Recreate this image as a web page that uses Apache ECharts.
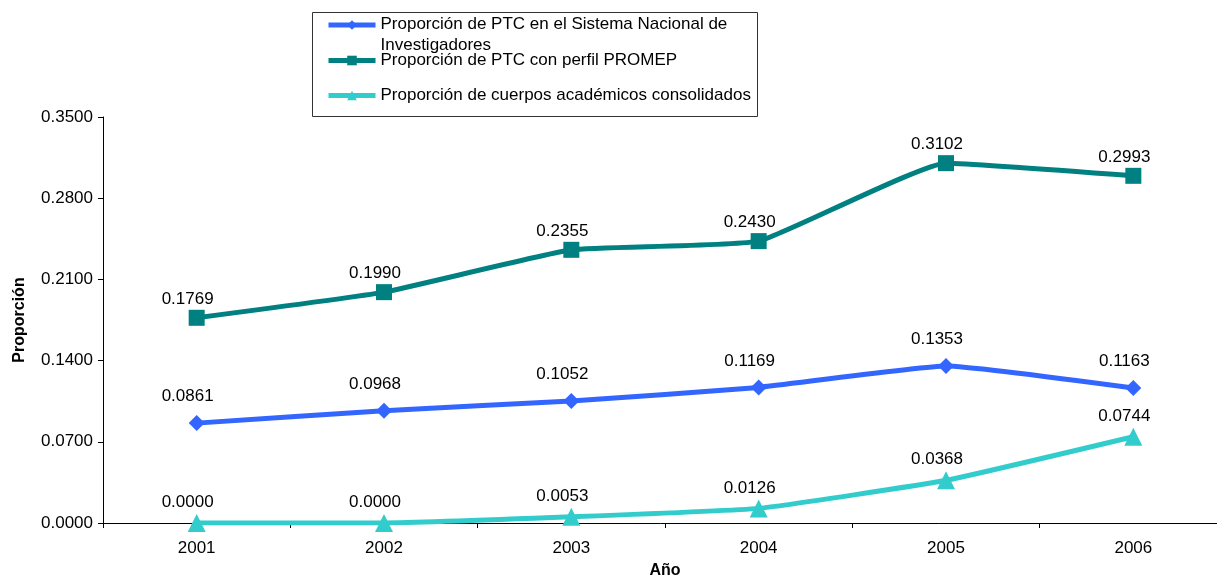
<!DOCTYPE html>
<html>
<head>
<meta charset="utf-8">
<script src="https://cdn.jsdelivr.net/npm/echarts@6/dist/echarts.min.js"></script>
<style>
  html, body { margin: 0; padding: 0; background: #fff; }
  #chart { width: 1217px; height: 577px; }
</style>
</head>
<body>
<div id="chart"></div>
<script>
// Years on the category axis
const years = ['2001', '2002', '2003', '2004', '2005', '2006'];

// Proportion series
const sniValues = [0.0861, 0.0968, 0.1052, 0.1169, 0.1353, 0.1163];
const promepValues = [0.1769, 0.1990, 0.2355, 0.2430, 0.3102, 0.2993];
const cuerposValues = [0.0000, 0.0000, 0.0053, 0.0126, 0.0368, 0.0744];

const seriesNames = [
  'Proporción de PTC en el Sistema Nacional de Investigadores',
  'Proporción de PTC con perfil PROMEP',
  'Proporción de cuerpos académicos consolidados'
];

const FONT = 'Liberation Sans, Arial, sans-serif';
const FS = 17;

function lineSeries(name, data, color, symbol, size, labelDistance) {
  return {
    name: name,
    type: 'line',
    data: data,
    smooth: 0.12,
    symbol: symbol,
    symbolSize: size,
    lineStyle: { color: color, width: 5 },
    itemStyle: { color: color },
    label: {
      show: true,
      position: 'top',
      distance: labelDistance,
      offset: [-9, 0],
      color: '#000',
      fontFamily: FONT,
      fontSize: FS,
      formatter: p => p.value.toFixed(4)
    },
    emphasis: { disabled: true }
  };
}

const legendText = { color: '#000', fontFamily: FONT, fontSize: FS };
const legendCommon = {
  left: 326,
  itemWidth: 47, itemHeight: 12, itemGap: 0, padding: 0,
  lineStyle: { width: 5 }
};

const chart = echarts.init(document.getElementById('chart'));
chart.setOption({
  animation: false,
  backgroundColor: '#fff',
  graphic: [{
    type: 'rect',
    shape: { x: 312.5, y: 12.5, width: 445, height: 104 },
    style: { fill: 'none', stroke: '#333', lineWidth: 1 },
    z: 0
  }],
  legend: [
    Object.assign({}, legendCommon, {
      data: [seriesNames[0]],
      top: 16,
      formatter: () => '{a|Proporción de PTC en el Sistema Nacional de}\n{b|Investigadores}',
      textStyle: Object.assign({}, legendText, {
        rich: {
          a: { fontFamily: FONT, fontSize: FS, color: '#000', lineHeight: 40 },
          b: { fontFamily: FONT, fontSize: FS, color: '#000', lineHeight: 1 }
        }
      })
    }),
    Object.assign({}, legendCommon, {
      data: [seriesNames[1]],
      top: 52,
      textStyle: legendText
    }),
    Object.assign({}, legendCommon, {
      data: [seriesNames[2]],
      top: 87,
      textStyle: legendText
    })
  ],
  grid: { left: 103, right: -10, top: 117, bottom: 54, outerBoundsMode: 'none' },
  xAxis: {
    type: 'category',
    data: years,
    boundaryGap: true,
    name: 'Año',
    nameLocation: 'middle',
    nameGap: 40,
    nameTextStyle: { color: '#000', fontFamily: FONT, fontSize: 16, fontWeight: 'bold' },
    axisLine: { lineStyle: { color: '#000', width: 1 } },
    axisTick: { show: true, length: 5, alignWithLabel: false, lineStyle: { color: '#000' } },
    axisLabel: { color: '#000', fontFamily: FONT, fontSize: FS, margin: 17 },
    splitLine: { show: false }
  },
  yAxis: {
    type: 'value',
    min: 0,
    max: 0.35,
    interval: 0.07,
    name: 'Proporción',
    nameLocation: 'middle',
    nameGap: 75,
    nameRotate: 90,
    nameTextStyle: { color: '#000', fontFamily: FONT, fontSize: 16, fontWeight: 'bold' },
    axisLine: { show: true, lineStyle: { color: '#000', width: 1 } },
    axisTick: { show: true, length: 5, lineStyle: { color: '#000' } },
    axisLabel: {
      color: '#000', fontFamily: FONT, fontSize: FS, margin: 10,
      formatter: v => v.toFixed(4)
    },
    splitLine: { show: false }
  },
  series: [
    lineSeries(seriesNames[0], sniValues, '#3366FF', 'diamond', 16, 10),
    lineSeries(seriesNames[1], promepValues, '#008080', 'rect', 16, 2),
    lineSeries(seriesNames[2], cuerposValues, '#33CCCC', 'triangle', 18, 3)
  ]
});
</script>
</body>
</html>
